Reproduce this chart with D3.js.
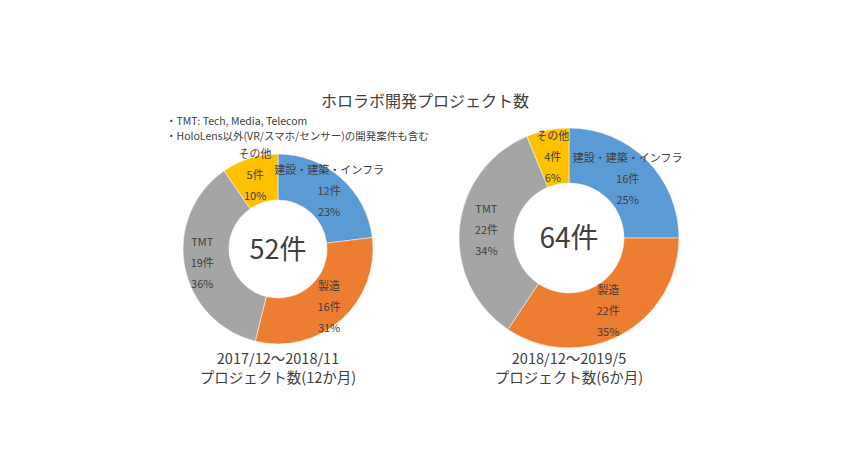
<!DOCTYPE html>
<html>
<head>
<meta charset="utf-8">
<script src="https://cdn.jsdelivr.net/npm/d3@7"></script>
<style>
  body { margin: 0; background: #fff; }
  text { font-family: "Noto Sans CJK JP", "Noto Sans", sans-serif; fill: #404040; }
</style>
</head>
<body>
<div id="chart"></div>
<script>
const categories = ["建設・建築・インフラ", "製造", "TMT", "その他"];
const colors = ["#5B9BD5", "#ED7D31", "#A5A5A5", "#FFC000"];

const counts2017 = [12, 16, 19, 5];
const pct2017 = ["23%", "31%", "36%", "10%"];
const counts2018 = [16, 22, 22, 4];
const pct2018 = ["25%", "35%", "34%", "6%"];

const periods = ["2017/12～2018/11", "2018/12～2019/5"];
const periodSubs = ["プロジェクト数(12か月)", "プロジェクト数(6か月)"];

const title = "ホロラボ開発プロジェクト数";
const notes = ["・TMT: Tech, Media, Telecom", "・HoloLens以外(VR/スマホ/センサー)の開発案件も含む"];

const width = 850;
const height = 470;

const svg = d3.select("#chart")
  .append("svg")
  .attr("width", width)
  .attr("height", height);

svg.append("text")
  .attr("x", 425)
  .attr("y", 107)
  .attr("text-anchor", "middle")
  .attr("font-size", 16)
  .text(title);

svg.append("g")
  .selectAll("text")
  .data(notes)
  .join("text")
    .attr("x", 166)
    .attr("y", (d, i) => 125 + i * 15)
    .attr("font-size", 10.5)
    .text(d => d);

const donuts = [
  { counts: counts2017, pct: pct2017, cx: 278, cy: 249, r: 95, inner: 49, labelR: 77, totalSize: 27 },
  { counts: counts2018, pct: pct2018, cx: 569, cy: 238, r: 110, inner: 55, labelR: 83, totalSize: 28 }
];

const pie = d3.pie().sort(null).value(d => d);

donuts.forEach((dn, k) => {
  const g = svg.append("g")
    .attr("transform", `translate(${dn.cx},${dn.cy})`);

  const arc = d3.arc().innerRadius(dn.inner).outerRadius(dn.r);
  const labelArc = d3.arc().innerRadius(dn.labelR).outerRadius(dn.labelR);

  const arcs = pie(dn.counts);

  g.selectAll("path")
    .data(arcs)
    .join("path")
      .attr("d", arc)
      .attr("fill", (d, i) => colors[i])
      .attr("stroke", "#fff")
      .attr("stroke-width", 0.5);

  const lab = g.selectAll("g.lab")
    .data(arcs)
    .join("g")
      .attr("class", "lab")
      .attr("transform", d => `translate(${labelArc.centroid(d)})`);

  lab.append("text")
    .attr("text-anchor", "middle")
    .attr("y", -17)
    .attr("font-size", 11)
    .text((d, i) => categories[i]);
  lab.append("text")
    .attr("text-anchor", "middle")
    .attr("y", 4)
    .attr("font-size", 11)
    .text((d, i) => dn.counts[i] + "件");
  lab.append("text")
    .attr("text-anchor", "middle")
    .attr("y", 25)
    .attr("font-size", 11)
    .text((d, i) => dn.pct[i]);

  g.append("text")
    .attr("text-anchor", "middle")
    .attr("y", dn.totalSize * 0.36)
    .attr("font-size", dn.totalSize)
    .attr("fill", "#333")
    .text(d3.sum(dn.counts) + "件");

  svg.append("text")
    .attr("x", dn.cx)
    .attr("y", 364)
    .attr("text-anchor", "middle")
    .attr("font-size", 14.5)
    .text(periods[k]);
  svg.append("text")
    .attr("x", dn.cx)
    .attr("y", 383)
    .attr("text-anchor", "middle")
    .attr("font-size", 14.5)
    .text(periodSubs[k]);
});
</script>
</body>
</html>
